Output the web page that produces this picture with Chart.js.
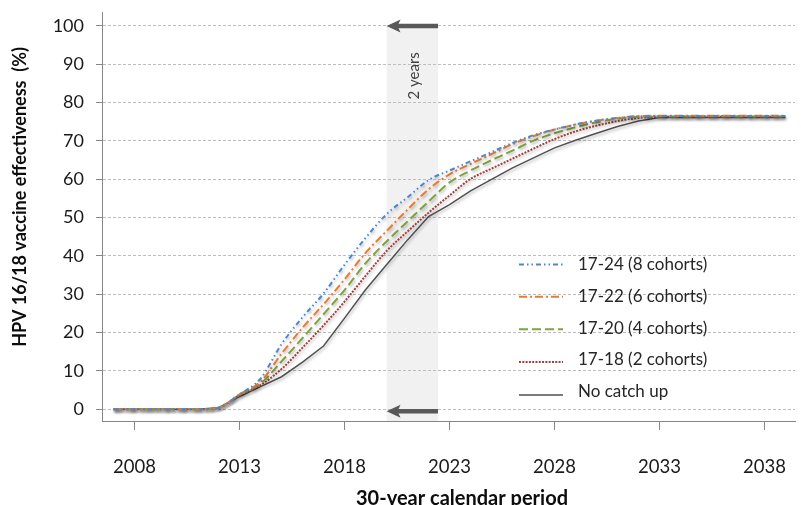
<!DOCTYPE html>
<html>
<head>
<meta charset="utf-8">
<script src="https://cdn.jsdelivr.net/npm/chart.js@4/dist/chart.umd.min.js"></script>
<style>
html,body{margin:0;padding:0;background:#ffffff;overflow:hidden}
canvas{display:block}
</style>
</head>
<body>
<canvas id="c" width="801" height="505"></canvas>
<script>
// ---- data ----
const years = [2007,2008,2009,2010,2011,2012,2013,2014,2015,2016,2017,2018,2019,2020,2021,2022,2023,2024,2025,2026,2027,2028,2029,2030,2031,2032,2033,2034,2035,2036,2037,2038,2039];
const xTickYears = [2008,2013,2018,2023,2028,2033,2038];
const yTickValues = [0,10,20,30,40,50,60,70,80,90,100];

const seriesLabels = ['17-24 (8 cohorts)','17-22 (6 cohorts)','17-20 (4 cohorts)','17-18 (2 cohorts)','No catch up'];

const catchUp17to24 = [0,0,0,0,0,0.4,3.9,8.0,17.0,24.0,30.2,37.7,44.7,50.9,55.3,59.8,62.3,64.7,67.1,69.5,71.5,73.0,74.3,75.3,76.0,76.4,76.5,76.5,76.5,76.5,76.5,76.5,76.5];
const catchUp17to22 = [0,0,0,0,0,0.4,3.9,7.2,14.5,21.3,27.4,33.9,40.8,46.5,52.1,57.4,61.3,64.0,66.6,69.2,71.3,73.0,74.3,75.3,76.0,76.5,76.6,76.6,76.6,76.6,76.6,76.6,76.6];
const catchUp17to20 = [0,0,0,0,0,0.4,3.8,6.7,12.5,18.6,24.8,31.1,38.1,43.8,49.0,54.2,59.2,62.3,65.0,67.5,70.1,72.0,73.6,74.9,75.8,76.3,76.4,76.4,76.4,76.4,76.4,76.4,76.4];
const catchUp17to18 = [0,0,0,0,0,0.4,3.7,6.3,10.5,16.1,21.9,28.1,34.8,41.3,46.4,51.3,55.8,60.1,62.8,65.4,68.0,70.5,72.5,74.0,75.2,76.0,76.3,76.3,76.3,76.3,76.3,76.3,76.3];
const noCatchUp     = [0,0,0,0,0,0.4,3.3,5.9,8.5,12.3,16.5,23.8,31.2,37.7,44.2,50.3,53.4,57.0,60.0,63.0,65.6,68.2,70.2,72.0,73.8,75.2,76.1,76.1,76.1,76.1,76.1,76.1,76.1];

// annotation values
const bandYears = [2020.0, 2022.45];
const arrowValues = [100, -0.5];
const bandLabel = '2 years';
const bandLabelPos = [2021.3, 87];
const xTitle = '30-year calendar period';
const yTitle = 'HPV 16/18 vaccine effectiveness  (%)';

// ---- styles ----
const styles = [
  {color:'#4A86D3', dash:[5,3,1.5,3,1.5,3], width:2, cubic:true},
  {color:'#EC7A30', dash:[8,3,2,3], width:2, cubic:true},
  {color:'#7FA23E', dash:[9,4], width:2, cubic:true},
  {color:'#A33F3B', dash:[2,1.3], width:2, cubic:true},
  {color:'#505050', dash:[], width:1.5, cubic:false}
];
const seriesValues = [catchUp17to24, catchUp17to22, catchUp17to20, catchUp17to18, noCatchUp];

const datasets = seriesValues.map((vals, i) => ({
  label: seriesLabels[i],
  data: years.map((yr, k) => ({x: yr, y: vals[k]})),
  borderColor: styles[i].color,
  backgroundColor: styles[i].color,
  borderDash: styles[i].dash,
  borderWidth: styles[i].width,
  cubicInterpolationMode: styles[i].cubic ? 'monotone' : 'default',
  tension: 0,
  pointRadius: 0,
  fill: false,
  borderCapStyle: 'butt'
}));

const FONT = 'Lato, "Open Sans", "DejaVu Sans", sans-serif';

const bandPlugin = {
  id: 'band',
  beforeDraw(chart) {
    const {ctx, chartArea: a, scales: {x, y}} = chart;
    const x0 = x.getPixelForValue(bandYears[0]);
    const x1 = x.getPixelForValue(bandYears[1]);
    const top = y.getPixelForValue(arrowValues[0]);
    ctx.save();
    ctx.fillStyle = '#F1F1F1';
    ctx.fillRect(x0, top, x1 - x0, a.bottom - top);
    ctx.restore();
  }
};

const shadowPlugin = {
  id: 'shadow',
  beforeDatasetsDraw(chart) {
    const ctx = chart.ctx;
    ctx.save();
    ctx.shadowColor = 'rgba(0,0,0,0.28)';
    ctx.shadowBlur = 3;
    ctx.shadowOffsetX = 1;
    ctx.shadowOffsetY = 2;
  },
  afterDatasetsDraw(chart) {
    chart.ctx.restore();
  }
};

const decorPlugin = {
  id: 'decor',
  afterDraw(chart) {
    const {ctx, chartArea: a, scales: {x, y}} = chart;
    // arrows
    const tipX = x.getPixelForValue(bandYears[0]);
    const tailX = x.getPixelForValue(bandYears[1]);
    ctx.save();
    ctx.fillStyle = '#595959';
    ctx.strokeStyle = '#595959';
    arrowValues.forEach(v => {
      const py = y.getPixelForValue(v);
      ctx.lineWidth = 4.5;
      ctx.beginPath();
      ctx.moveTo(tailX, py);
      ctx.lineTo(tipX + 10, py);
      ctx.stroke();
      ctx.beginPath();
      ctx.moveTo(tipX, py);
      ctx.lineTo(tipX + 14, py - 6.5);
      ctx.lineTo(tipX + 11, py);
      ctx.lineTo(tipX + 14, py + 6.5);
      ctx.closePath();
      ctx.fill();
    });
    ctx.restore();

    // band label
    ctx.save();
    ctx.translate(x.getPixelForValue(bandLabelPos[0]), y.getPixelForValue(bandLabelPos[1]));
    ctx.rotate(-Math.PI / 2);
    ctx.fillStyle = '#404040';
    ctx.font = '15px ' + FONT;
    ctx.textAlign = 'center';
    ctx.textBaseline = 'middle';
    ctx.fillText(bandLabel, 0, 0);
    ctx.restore();

    // legend
    const rowsLine = [264.5, 296.7, 329.3, 362, 395];
    const rowsText = [265, 297, 329, 360, 392];
    ctx.save();
    chart.data.datasets.forEach((ds, i) => {
      ctx.save();
      ctx.strokeStyle = ds.borderColor;
      ctx.lineWidth = ds.borderWidth;
      ctx.setLineDash(ds.borderDash);
      ctx.beginPath();
      ctx.moveTo(519, rowsLine[i]);
      ctx.lineTo(563, rowsLine[i]);
      ctx.stroke();
      ctx.restore();
      ctx.fillStyle = '#262626';
      ctx.font = '17px ' + FONT;
      ctx.textAlign = 'left';
      ctx.textBaseline = 'middle';
      ctx.fillText(ds.label, 578, rowsText[i]);
    });
    ctx.restore();

    // axis titles
    ctx.save();
    ctx.fillStyle = '#0d0d0d';
    ctx.font = 'bold 20px ' + FONT;
    ctx.textAlign = 'center';
    ctx.textBaseline = 'alphabetic';
    ctx.fillText(xTitle, 462, 505);
    ctx.font = 'bold 18px ' + FONT;
    ctx.translate(26, 197);
    ctx.rotate(-Math.PI / 2);
    ctx.fillText(yTitle, 0, 0);
    ctx.restore();
  }
};

new Chart(document.getElementById('c'), {
  type: 'line',
  data: {datasets},
  options: {
    responsive: false,
    animation: false,
    devicePixelRatio: 1,
    layout: {padding: {top: 12, right: 6, left: 0, bottom: 0}},
    plugins: {legend: {display: false}, tooltip: {enabled: false}},
    elements: {point: {radius: 0}},
    scales: {
      x: {
        type: 'linear',
        min: 2006.45,
        max: 2039.45,
        afterBuildTicks: s => { s.ticks = xTickYears.map(v => ({value: v})); },
        afterFit: s => { s.height = 84; s.paddingLeft = 0; s.paddingRight = 0; },
        grid: {drawOnChartArea: false, drawTicks: true, tickLength: 9, tickColor: '#868686', tickWidth: 1},
        border: {color: '#868686', width: 1},
        ticks: {
          callback: v => String(v),
          font: {family: FONT, size: 18.5},
          color: '#1a1a1a',
          padding: 26,
          maxRotation: 0,
          autoSkip: false
        }
      },
      y: {
        type: 'linear',
        min: -3.05,
        max: 103.65,
        afterBuildTicks: s => { s.ticks = yTickValues.map(v => ({value: v})); },
        afterFit: s => { s.width = 102; s.paddingTop = 0; s.paddingBottom = 0; },
        grid: {color: '#BDBDBD', lineWidth: 1, tickColor: '#868686', tickLength: 6, tickBorderDash: []},
        border: {color: '#868686', width: 1, dash: [3, 2]},
        ticks: {
          callback: v => String(v),
          font: {family: FONT, size: 18},
          color: '#1a1a1a',
          padding: 12,
          autoSkip: false
        }
      }
    }
  },
  plugins: [bandPlugin, shadowPlugin, decorPlugin]
});
</script>
</body>
</html>
